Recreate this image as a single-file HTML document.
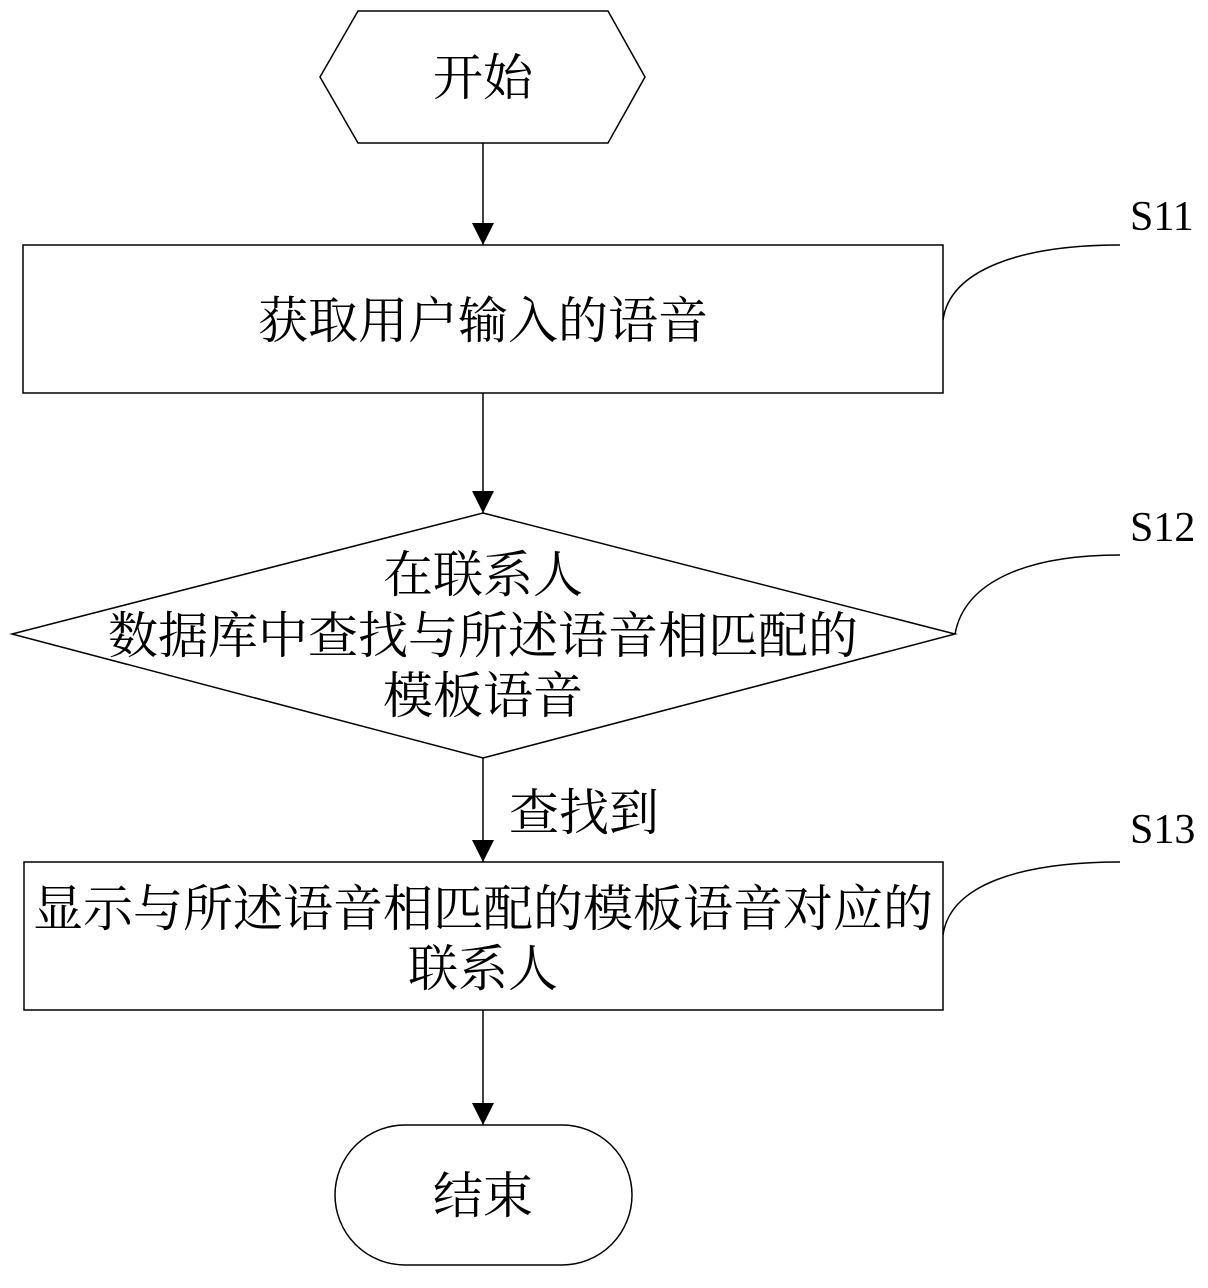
<!DOCTYPE html>
<html><head><meta charset="utf-8"><style>
html,body{margin:0;padding:0;background:#fff;}
svg text{font-family:"Liberation Serif","Noto Serif CJK SC",serif;fill:#000;}
</style></head><body>
<svg width="1208" height="1283" viewBox="0 0 1208 1283" xmlns="http://www.w3.org/2000/svg">
<defs><marker id="a" markerWidth="24" markerHeight="24" refX="22" refY="11" orient="auto" markerUnits="userSpaceOnUse"><path d="M0,0 L22,11 L0,22 z" fill="#000"/></marker></defs>
<g fill="none" stroke="#000" stroke-width="1.5">
<polygon points="320,77 358,11 608,11 645,77 608,143 358,143" fill="#fff"/>
<line x1="483" y1="143" x2="483" y2="245" marker-end="url(#a)"/>
<rect x="23" y="245" width="920" height="148" fill="#fff"/>
<line x1="483" y1="393" x2="483" y2="513" marker-end="url(#a)"/>
<polygon points="483,513 955,634 483,758 12,634" fill="#fff"/>
<line x1="483" y1="758" x2="483" y2="862" marker-end="url(#a)"/>
<rect x="24" y="862" width="919" height="148" fill="#fff"/>
<line x1="483" y1="1010" x2="483" y2="1125" marker-end="url(#a)"/>
<rect x="335" y="1125" width="297" height="140" rx="70" ry="70" fill="#fff"/>
<path d="M943,320 C950,270 1020,245 1120,245"/>
<path d="M955,634 C965,580 1030,555 1120,555"/>
<path d="M943,935 C950,885 1020,862 1120,862"/>
</g>
<g font-size="50" text-anchor="middle">
<text x="483" y="95">开始</text>
<text x="483" y="338">获取用户输入的语音</text>
<text x="483" y="592">在联系人</text>
<text x="483" y="653">数据库中查找与所述语音相匹配的</text>
<text x="483" y="713">模板语音</text>
<text x="584" y="830">查找到</text>
<text x="483" y="926">显示与所述语音相匹配的模板语音对应的</text>
<text x="483" y="986">联系人</text>
<text x="483" y="1213">结束</text>
</g>
<g font-size="42">
<text x="1130" y="230">S11</text>
<text x="1130" y="541">S12</text>
<text x="1130" y="843">S13</text>
</g>
</svg>
</body></html>
